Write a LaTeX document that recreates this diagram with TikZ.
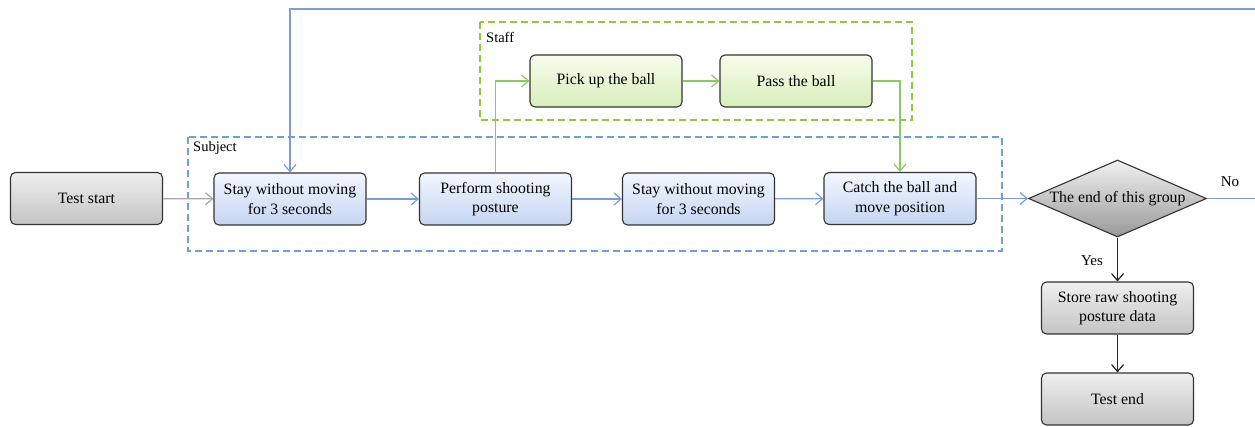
\documentclass[tikz,border=0pt]{standalone}
\usepackage{fontspec}
\setmainfont{Liberation Serif}
\usetikzlibrary{arrows.meta,shapes.geometric}
\definecolor{bline}{HTML}{7C9DD2}
\definecolor{gline}{HTML}{8DC866}
\definecolor{grline}{HTML}{A8A8A8}
\definecolor{bdash}{HTML}{6E9FDC}
\definecolor{gdash}{HTML}{92C83E}
\definecolor{btop}{HTML}{F3F7FE}
\definecolor{bbot}{HTML}{C4D5F1}
\definecolor{gtop}{HTML}{F7FCEC}
\definecolor{gbot}{HTML}{D8EFBA}
\definecolor{ktop}{HTML}{EFEFEF}
\definecolor{kbot}{HTML}{C4C4C4}
\tikzset{
  boxbase/.style={draw=black!80, line width=1.1pt, rounded corners=5pt,
    minimum width=152pt, minimum height=52pt, align=center, inner sep=2pt,
    font=\fontsize{15.8}{19.5}\selectfont},
  graybox/.style={boxbase, top color=ktop, bottom color=kbot},
  bluebox/.style={boxbase, top color=btop, bottom color=bbot},
  greenbox/.style={boxbase, top color=gtop, bottom color=gbot},
  decision/.style={diamond, draw=black!80, line width=1.1pt, aspect=2.31,
    minimum width=178pt, minimum height=77pt, inner sep=0pt,
    top color=ktop!90, bottom color=black!40, font=\fontsize{15.8}{19.5}\selectfont},
  tip/.style={-{Straight Barb[length=7pt,width=12pt]}},
  barrow/.style={tip, draw=bline, line width=1.2pt},
  garrow/.style={tip, draw=gline, line width=1.2pt},
  karrow/.style={tip, draw=grline, line width=1.2pt},
  darrow/.style={tip, draw=black!85, line width=1.2pt},
  groupbox/.style={line width=1.4pt, dash pattern=on 7pt off 4pt},
  grouplabel/.style={anchor=west, inner sep=0pt, font=\fontsize{14.5}{16}\selectfont},
  sidelabel/.style={inner sep=0pt, font=\fontsize{15}{16}\selectfont}
}
\begin{document}
\begin{tikzpicture}[x=1pt,y=1pt]
\useasboundingbox (0,0) rectangle (1255,-427);
\clip (0,0) rectangle (1255,-427);
\fill[white] (0,0) rectangle (1255,-427);

% group frames
\draw[groupbox, draw=gdash] (480,-22) rectangle (912,-120);
\node[grouplabel] (stafflbl) at (486,-37) {Staff};
\draw[groupbox, draw=bdash] (188,-137) rectangle (1002,-251);
\node[grouplabel] (subjlbl) at (193,-148) {Subject};

% nodes
\node[graybox] (ts) at (86.5,-198.5) {Test start};
\node[bluebox] (s1) at (290,-199) {Stay without moving\\for 3 seconds};
\node[bluebox] (ps) at (495.5,-199) {Perform shooting\\posture};
\node[bluebox] (s2) at (698.5,-199) {Stay without moving\\for 3 seconds};
\node[bluebox] (cb) at (900,-198.5) {Catch the ball and\\move position};
\node[decision] (dm) at (1117.5,-198.5) {The end of this group};
\node[graybox] (st) at (1117.5,-308) {Store raw shooting\\posture data};
\node[graybox] (te) at (1117.5,-399) {Test end};
\node[greenbox] (pk) at (606,-81) {Pick up the ball};
\node[greenbox] (pa) at (796,-81) {Pass the ball};

\coordinate (loopR) at (1275,-9);

% connectors
\draw[karrow] (ts) -- (s1);
\draw[barrow] (s1) -- (ps);
\draw[barrow] (ps) -- (s2);
\draw[barrow] (s2) -- (cb);
\draw[barrow] (cb) -- (dm);
\draw[barrow] (dm.east) -| (loopR) -| (s1.north);
\draw[garrow] (ps.north) |- (pk.west);
\draw[garrow] (pk) -- (pa);
\draw[garrow] (pa.east) -| (cb.north);
\draw[darrow] (dm.south) -- (st.north);
\draw[darrow] (st) -- (te);

\node[sidelabel] (yes) at (1092,-261) {Yes};
\node[sidelabel] (no) at (1230,-182) {No};
\end{tikzpicture}
\end{document}
